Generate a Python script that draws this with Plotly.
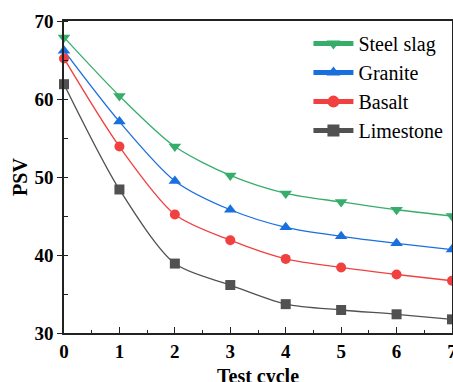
import plotly.graph_objects as go

cycles = [0, 1, 2, 3, 4, 5, 6, 7]
steel_slag = [67.9, 60.4, 53.9, 50.2, 47.9, 46.8, 45.8, 45.0]
granite = [66.2, 57.1, 49.5, 45.8, 43.55, 42.4, 41.5, 40.7]
basalt = [65.2, 53.9, 45.2, 41.9, 39.5, 38.4, 37.5, 36.7]
limestone = [61.9, 48.4, 38.9, 36.15, 33.7, 32.95, 32.4, 31.75]
x_title = "Test cycle"

series = [
    ("Steel slag", steel_slag, "#37AD6B", "triangle-down"),
    ("Granite", granite, "#1A6FDF", "triangle-up"),
    ("Basalt", basalt, "#F14040", "circle"),
    ("Limestone", limestone, "#515151", "square"),
]

SERIF = "Liberation Serif, Times New Roman, serif"

fig = go.Figure()
for name, vals, color, sym in series:
    fig.add_trace(go.Scatter(
        x=cycles, y=vals, name=name, mode="lines+markers",
        line=dict(color=color, width=1.3, shape="spline", smoothing=0.8),
        marker=dict(symbol=sym, size=11 if "triangle" in sym else 10, color=color),
        cliponaxis=False,
    ))

fig.update_layout(
    width=453, height=382,
    margin=dict(l=64, r=1, t=21, b=49, autoexpand=False),
    plot_bgcolor="white", paper_bgcolor="white",
    showlegend=True,
    legend=dict(x=0.63, y=0.99, xanchor="left", yanchor="top",
                font=dict(family=SERIF, size=20, color="black"),
                bgcolor="rgba(0,0,0,0)", tracegroupgap=0, itemsizing="constant",
                itemwidth=40),
    xaxis=dict(
        range=[0, 7], tickvals=cycles, ticktext=[str(c) for c in cycles],
        showgrid=False, zeroline=False, showline=True, linecolor="#222", linewidth=1.6,
        mirror=True, ticks="inside", ticklen=6, tickwidth=1.3, tickcolor="#222",
        minor=dict(ticks="inside", ticklen=3, tickwidth=1.2, tickcolor="#222", dtick=0.5),
        tickfont=dict(family=SERIF, size=19, color="black", weight="bold"),
        ticklabeloverflow="allow", automargin=False,
    ),
    yaxis=dict(
        range=[30, 70], tickvals=[30, 40, 50, 60, 70],
        showgrid=False, zeroline=False, showline=True, linecolor="#222", linewidth=1.6,
        mirror=True, ticks="outside", ticklen=5, tickwidth=1.3, tickcolor="#222",
        minor=dict(ticks="inside", ticklen=4, tickwidth=1.2, tickcolor="#222", dtick=5),
        tickfont=dict(family=SERIF, size=19, color="black", weight="bold"),
        automargin=False,
        title=dict(text="<b>PSV</b>", font=dict(family=SERIF, size=20, color="black"), standoff=1),
    ),
    annotations=[dict(
        text="<b>" + x_title + "</b>", xref="paper", yref="paper",
        x=0.5, y=-0.095, xanchor="center", yanchor="top", showarrow=False,
        font=dict(family=SERIF, size=20, color="black"),
    )],
)

fig.write_html("out.html", config={"displayModeBar": False},
               post_script="document.body.style.margin='0';document.body.style.overflow='hidden';")
